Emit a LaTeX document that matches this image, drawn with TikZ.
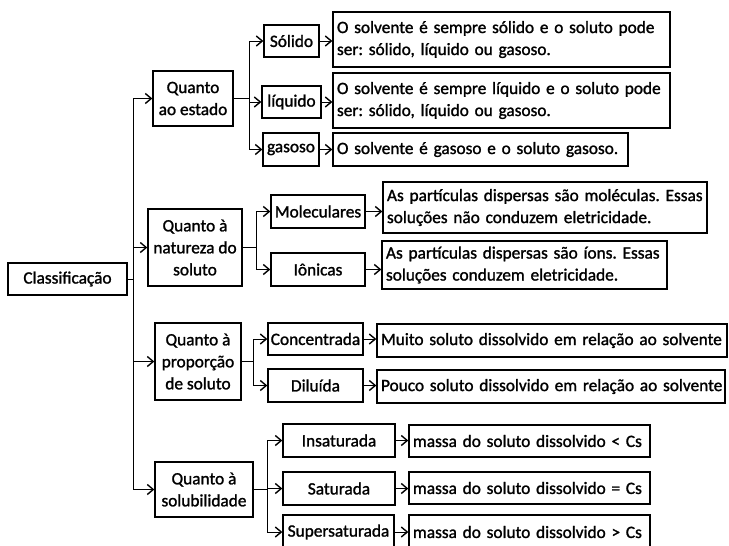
\documentclass[tikz,border=0pt]{standalone}
\usepackage{fontspec}
\setmainfont{Carlito}[FakeBold=1.4]
\usetikzlibrary{arrows.meta}
\frenchspacing
\newcommand\mybox[6]{\node[box, minimum width={#3-#2}, minimum height={#5-#4}] (#1) at ({(#2+#3)/2},{(#4+#5)/2}) {#6};}
\newcommand\mydesc[7]{\node[dbox, text width=#7, minimum height={#5-#4}] (#1) at ({(#2+#3)/2},{(#4+#5)/2}) {#6};}
\begin{document}
\begin{tikzpicture}[x=1pt,y=-1pt,
  box/.style={draw, line width=1.3pt, inner sep=0pt, align=center, font=\fontsize{17.3}{22}\selectfont},
  dbox/.style={draw, line width=1.3pt, inner xsep=4pt, inner ysep=0pt, align=left, font=\fontsize{17.3}{22}\selectfont},
  arr/.style={line width=1pt, -{Straight Barb[length=6pt,width=10pt,line width=1.4pt]}},
  ln/.style={line width=1pt}]
\useasboundingbox (0,0) rectangle (729,546);
\clip (0,0) rectangle (729,546);
% level 0 and 1
\mybox{cls}{8}{127}{263}{295}{Classificação}
\mybox{estado}{153}{233}{71}{126}{Quanto\\ao estado}
\mybox{natureza}{148}{242}{209}{286}{Quanto à\\natureza do\\soluto}
\mybox{proporcao}{155}{241}{323}{400}{Quanto à\\proporção\\de soluto}
\mybox{solub}{155}{253}{462}{517}{Quanto à\\solubilidade}
% level 2
\mybox{solido}{264}{319}{25}{57}{Sólido}
\mybox{liquido}{262}{321}{86}{118}{líquido}
\mybox{gasoso}{263}{319}{133}{166}{gasoso}
\mybox{molec}{271}{365}{195}{228}{Moleculares}
\mybox{ionicas}{271}{365}{253}{286}{Iônicas}
\mybox{conc}{268}{363}{323}{355}{Concentrada}
\mybox{dil}{268}{363}{369}{402}{Diluída}
\mybox{insat}{283}{395}{424}{457}{Insaturada}
\mybox{sat}{283}{395}{472}{505}{Saturada}
\mybox{super}{283}{394}{515}{549}{Supersaturada}
% descriptions
\mydesc{d1}{333}{670}{12}{67}{\mbox{O solvente é sempre sólido e o soluto pode}\\\mbox{ser: sólido, líquido ou gasoso.}}{329pt}
\mydesc{d2}{333}{670}{73}{128}{\mbox{O solvente é sempre líquido e o soluto pode}\\\mbox{ser: sólido, líquido ou gasoso.}}{329pt}
\mydesc{d3}{333}{628}{133}{166}{\mbox{O solvente é gasoso e o soluto gasoso.}}{287pt}
\mydesc{dm}{383}{707}{182}{233}{\mbox{As partículas dispersas são moléculas. Essas}\\\mbox{soluções não conduzem eletricidade.}}{316pt}
\mydesc{di}{382}{667}{241}{289}{\mbox{As partículas dispersas são íons. Essas}\\\mbox{soluções conduzem eletricidade.}}{277pt}
\mydesc{dmuito}{377}{727}{324}{357}{\mbox{Muito soluto dissolvido em relação ao solvente}}{342pt}
\mydesc{dpouco}{377}{725}{370}{403}{\mbox{Pouco soluto dissolvido em relação ao solvente}}{340pt}
\mydesc{dlt}{409}{650}{425}{457}{\mbox{massa do soluto dissolvido < Cs}}{233pt}
\mydesc{deq}{409}{650}{472}{504}{\mbox{massa do soluto dissolvido = Cs}}{233pt}
\mydesc{dgt}{409}{650}{515}{549}{\mbox{massa do soluto dissolvido > Cs}}{233pt}
% trunk
\coordinate (t) at (133,279);
\draw[ln] (cls.east) -- (t);
\draw[ln] (t |- estado.west) -- (t |- solub.west);
\foreach \c in {estado,natureza,proporcao,solub} \draw[arr] (t |- \c.west) -- (\c.west);
% branches
\coordinate (b1) at (249,0);
\draw[ln] (estado.east) -- (b1 |- estado.east);
\draw[ln] (b1 |- solido.west) -- (b1 |- gasoso.west);
\foreach \c in {solido,liquido,gasoso} \draw[arr] (b1 |- \c.west) -- (\c.west);
\coordinate (b2) at (256,0);
\draw[ln] (natureza.east) -- (b2 |- natureza.east);
\draw[ln] (b2 |- molec.west) -- (b2 |- ionicas.west);
\foreach \c in {molec,ionicas} \draw[arr] (b2 |- \c.west) -- (\c.west);
\coordinate (b3) at (253,0);
\draw[ln] (proporcao.east) -- (b3 |- proporcao.east);
\draw[ln] (b3 |- conc.west) -- (b3 |- dil.west);
\foreach \c in {conc,dil} \draw[arr] (b3 |- \c.west) -- (\c.west);
\coordinate (b4) at (267,0);
\draw[ln] (solub.east) -- (b4 |- solub.east);
\draw[ln] (b4 |- insat.west) -- (b4 |- super.west);
\foreach \c in {insat,sat,super} \draw[arr] (b4 |- \c.west) -- (\c.west);
% to descriptions
\draw[arr] (solido.east) -- (d1.west |- solido.east);
\draw[arr] (liquido.east) -- (d2.west |- liquido.east);
\draw[arr] (gasoso.east) -- (d3.west |- gasoso.east);
\draw[arr] (molec.east) -- (dm.west |- molec.east);
\draw[arr] (ionicas.east) -- (di.west |- ionicas.east);
\draw[arr] (conc.east) -- (dmuito.west |- conc.east);
\draw[arr] (dil.east) -- (dpouco.west |- dil.east);
\draw[arr] (insat.east) -- (dlt.west |- insat.east);
\draw[arr] (sat.east) -- (deq.west |- sat.east);
\draw[arr] (super.east) -- (dgt.west |- super.east);
\end{tikzpicture}
\end{document}
